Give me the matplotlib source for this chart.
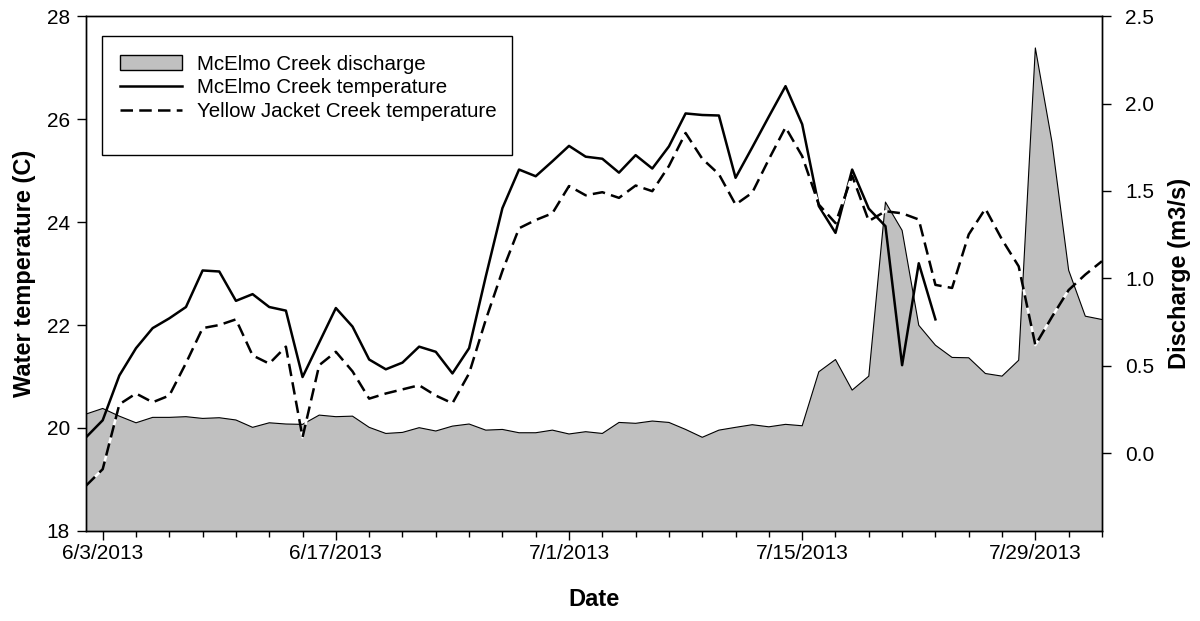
import matplotlib
matplotlib.use("Agg")
import matplotlib.pyplot as plt
import matplotlib.dates as mdates
from matplotlib.patches import Patch, Rectangle
from matplotlib.lines import Line2D
from matplotlib.ticker import FixedLocator, FuncFormatter
import numpy as np
import pandas as pd

plt.rcParams["font.family"] = ["Liberation Sans", "DejaVu Sans"]

# daily values, 6/2/2013 .. 8/2/2013
dates = pd.date_range("2013-06-02", "2013-08-02", freq="D")

mcelmo_temp = [
    19.82, 20.15, 21.02, 21.55, 21.94, 22.13, 22.35, 23.06, 23.04, 22.47,
    22.60, 22.35, 22.28, 20.99, 21.66, 22.33, 21.97, 21.33, 21.14, 21.27,
    21.58, 21.48, 21.06, 21.55, 22.94, 24.27, 25.02, 24.89, 25.18, 25.48,
    25.27, 25.23, 24.96, 25.30, 25.04, 25.47, 26.11, 26.08, 26.07, 24.86,
    25.45, 26.05, 26.64, 25.90, 24.31, 23.79, 25.02, 24.26, 23.92, 21.22,
    23.20, 22.11, None, None, None, None, None, None, None, None,
    None, None,
]

yellow_jacket_temp = [
    18.88, 19.20, 20.46, 20.67, 20.50, 20.63, 21.26, 21.94, 22.00, 22.11,
    21.41, 21.25, 21.58, 19.82, 21.22, 21.48, 21.10, 20.57, 20.67, 20.75,
    20.83, 20.63, 20.48, 21.06, 22.10, 23.05, 23.88, 24.04, 24.17, 24.70,
    24.52, 24.58, 24.47, 24.71, 24.60, 25.09, 25.73, 25.23, 24.93, 24.34,
    24.57, 25.22, 25.84, 25.28, 24.34, 23.98, 24.90, 24.02, 24.21, 24.17,
    24.05, 22.78, 22.72, 23.76, 24.26, 23.66, 23.14, 21.61, 22.16, 22.68,
    22.98, 23.24,
]

mcelmo_discharge = [
    0.223, 0.255, 0.211, 0.173, 0.204, 0.204, 0.208, 0.198, 0.202, 0.189,
    0.147, 0.173, 0.166, 0.164, 0.217, 0.208, 0.211, 0.147, 0.112, 0.118,
    0.145, 0.126, 0.154, 0.166, 0.131, 0.135, 0.116, 0.116, 0.131, 0.109,
    0.122, 0.112, 0.175, 0.170, 0.183, 0.175, 0.135, 0.090, 0.131, 0.147,
    0.162, 0.150, 0.164, 0.156, 0.465, 0.535, 0.360, 0.440, 1.436, 1.274,
    0.731, 0.617, 0.547, 0.545, 0.455, 0.440, 0.531, 2.318, 1.779, 1.046,
    0.783, 0.764,
]

temp_mc = np.array([np.nan if v is None else v for v in mcelmo_temp])
temp_yj = np.array(yellow_jacket_temp)
q = np.array(mcelmo_discharge)

fig = plt.figure(figsize=(12, 6.21), dpi=100)
ax = fig.add_axes([0.0717, 0.145, 0.8466, 0.829])
ax2 = ax.twinx()

# discharge drawn on the right axis, underneath the temperature lines
q_bottom = -0.446
ax2.fill_between(dates, q, q_bottom, facecolor="#c0c0c0", edgecolor="none")
ax2.plot(dates, q, color="black", lw=0.8)
ax2.set_ylim(q_bottom, 2.5)
ax2.set_yticks([0.0, 0.5, 1.0, 1.5, 2.0, 2.5])
ax2.yaxis.set_major_formatter(FuncFormatter(lambda v, p: f"{v:.1f}"))
ax2.set_ylabel("Discharge (m3/s)", fontsize=17, fontweight="bold", labelpad=10)

ax.set_zorder(ax2.get_zorder() + 1)
ax.patch.set_visible(False)

ax.plot(dates, temp_mc, color="black", lw=1.8)
ax.plot(dates, temp_yj, color="black", lw=1.8, linestyle=(0, (5, 2.5)), gapcolor="white")

ax.set_ylim(18, 28)
ax.set_yticks([18, 20, 22, 24, 26, 28])
ax.set_xlim(dates[0], dates[-1])

major = pd.date_range("2013-06-03", "2013-08-02", freq="14D")
minor = pd.date_range("2013-06-03", "2013-08-02", freq="2D")
ax.xaxis.set_major_locator(FixedLocator(mdates.date2num(major)))
ax.xaxis.set_minor_locator(FixedLocator(mdates.date2num(minor)))
ax.xaxis.set_major_formatter(FuncFormatter(
    lambda v, p: (lambda d: f"{d.month}/{d.day}/{d.year}")(mdates.num2date(v))))

for a in (ax, ax2):
    a.tick_params(axis="both", which="major", direction="out", length=6.5, width=1, labelsize=15)
    a.tick_params(axis="x", which="minor", direction="out", length=4, width=1)
    for s in a.spines.values():
        s.set_linewidth(1)
ax.tick_params(axis="y", pad=5)
ax.tick_params(axis="x", pad=3)
ax2.tick_params(axis="y", pad=10)

ax.set_xlabel("Date", fontsize=17, fontweight="bold", labelpad=18)
ax.set_ylabel("Water temperature (C)", fontsize=17, fontweight="bold", labelpad=8)

handles = [
    Patch(facecolor="#c0c0c0", edgecolor="black", linewidth=1),
    Line2D([], [], color="black", lw=1.8),
    Line2D([], [], color="black", lw=1.8, linestyle=(0, (5, 2.5))),
]
labels = ["McElmo Creek discharge", "McElmo Creek temperature", "Yellow Jacket Creek temperature"]
leg = ax.legend(handles, labels, loc="upper left", bbox_to_anchor=(0.0157, 0.961),
                fontsize=14.8, frameon=False, handlelength=3.0, handletextpad=0.7,
                borderpad=0.9, labelspacing=0.22, borderaxespad=0)
# legend box, a bit deeper at the bottom like the original
ax.add_patch(Rectangle((0.0157, 0.730), 0.4036, 0.231, transform=ax.transAxes,
                       facecolor="white", edgecolor="black", lw=1, zorder=4))
leg.set_zorder(5)

fig.savefig("out.png", dpi=100)
